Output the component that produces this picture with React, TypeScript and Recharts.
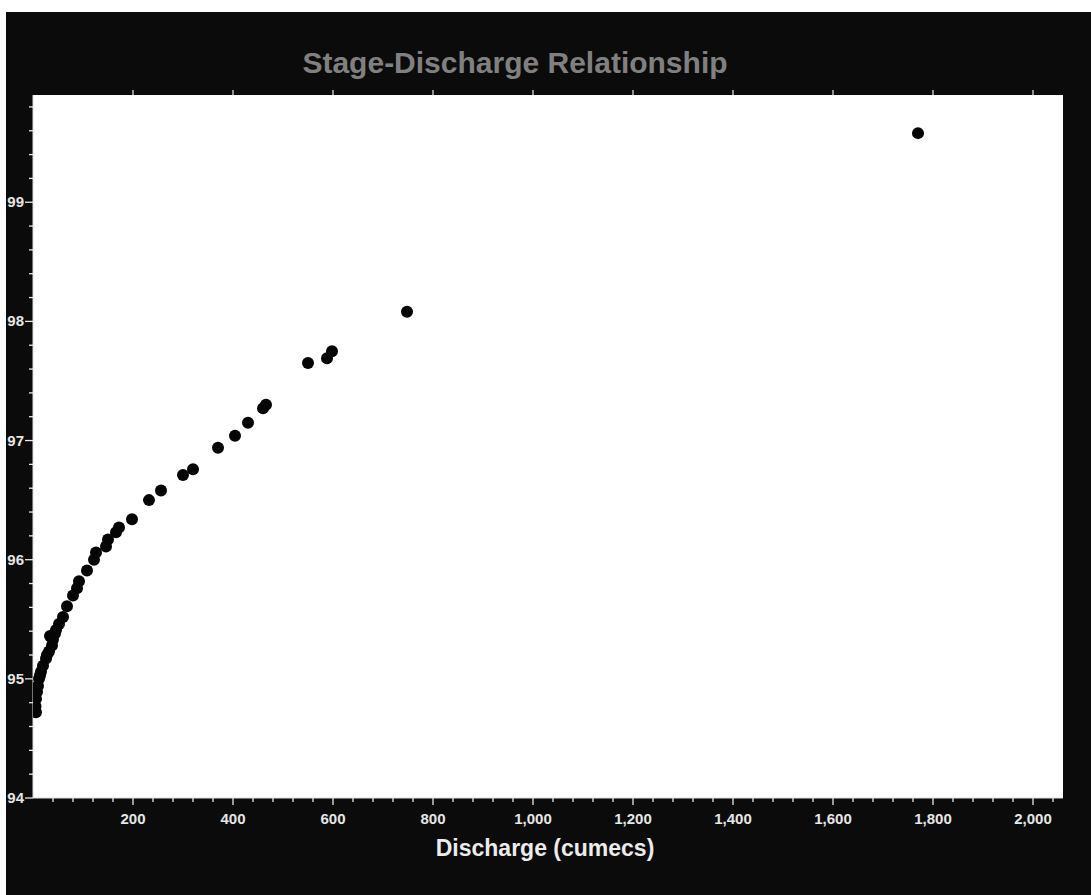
import React from "react";
import { ScatterChart, Scatter, XAxis, YAxis, CartesianGrid } from "recharts";

const discharge = [
  1770, 748, 598, 588, 550, 466, 460, 430, 404, 370, 320, 300, 256, 232, 198,
  172, 166, 150, 146, 126, 122, 108, 92, 88, 80, 68, 60, 52, 46, 44, 34, 40,
  38, 32, 28, 26, 20, 16, 14, 12, 10, 8, 6, 5, 6,
];
const stage = [
  99.58, 98.08, 97.75, 97.69, 97.65, 97.3, 97.27, 97.15, 97.04, 96.94, 96.76,
  96.71, 96.58, 96.5, 96.34, 96.27, 96.23, 96.17, 96.11, 96.06, 96.0, 95.91,
  95.82, 95.76, 95.7, 95.61, 95.52, 95.46, 95.41, 95.38, 95.36, 95.33, 95.28,
  95.23, 95.2, 95.17, 95.11, 95.06, 95.03, 95.0, 94.94, 94.89, 94.83, 94.77,
  94.72,
];

const xMajorTicks = [200, 400, 600, 800, 1000, 1200, 1400, 1600, 1800, 2000];
const xMinorStep = 40;
const xMax = 2060;
const yMajorTicks = [94, 95, 96, 97, 98, 99];
const yMinorStep = 0.2;
const yMin = 94;
const yMax = 99.9;

const points = discharge.map((d, i) => ({ q: d, h: stage[i] }));

const xTicks: number[] = [];
for (let v = xMinorStep; v <= xMax; v += xMinorStep) xTicks.push(v);
const yTicks: number[] = [];
for (let i = 0; yMin + i * yMinorStep <= yMax + 1e-9; i++)
  yTicks.push(Math.round((yMin + i * yMinorStep) * 10) / 10);

const PLOT_H = 703;
const FONT = "'Liberation Sans', Arial, Helvetica, sans-serif";

const fmt = (v: number) => v.toLocaleString("en-US");

const XTick = (props: any) => {
  const { x, y, payload } = props;
  const v = payload.value;
  const major = xMajorTicks.includes(v);
  return (
    <g>
      <line x1={x} x2={x} y1={y} y2={y + (major ? 7 : 4)} stroke="#e8e8e8" strokeWidth={1.3} />
      {major && (
        <line x1={x} x2={x} y1={y - PLOT_H} y2={y - PLOT_H - 5} stroke="#e8e8e8" strokeWidth={1.2} />
      )}
      {major && (
        <text x={x} y={y + 26} textAnchor="middle" fill="#e6e6e6" fontSize={15} fontWeight="bold" fontFamily={FONT}>
          {fmt(v)}
        </text>
      )}
    </g>
  );
};

const YTick = (props: any) => {
  const { x, y, payload } = props;
  const v = payload.value;
  const major = yMajorTicks.some((m) => Math.abs(m - v) < 1e-6);
  return (
    <g>
      <line x1={x - (major ? 8 : 4)} x2={x} y1={y} y2={y} stroke="#e8e8e8" strokeWidth={1.3} />
      {major && (
        <text x={x - 9} y={y + 5} textAnchor="end" fill="#e6e6e6" fontSize={15} fontWeight="bold" fontFamily={FONT}>
          {v}
        </text>
      )}
    </g>
  );
};

const Dot = (props: any) => <circle cx={props.cx} cy={props.cy} r={6} fill="#050505" />;

export default function App() {
  return (
    <div style={{ position: "absolute", left: 0, top: 0, width: 1091, height: 895, background: "#fff", overflow: "hidden" }}>
      <div style={{ position: "absolute", left: 6, top: 12, width: 1085, height: 883, background: "#0b0b0b", overflow: "hidden" }}>
        <ScatterChart width={1085} height={883} margin={{ top: 83, right: 28, left: 0, bottom: 0 }}>
          <CartesianGrid fill="#ffffff" horizontal={false} vertical={false} />
          <XAxis
            type="number"
            dataKey="q"
            domain={[0, xMax]}
            ticks={xTicks}
            interval={0}
            height={97}
            tickSize={0}
            tickMargin={0}
            tick={<XTick />}
            axisLine={{ stroke: "#dcdcdc" }}
            allowDataOverflow
          />
          <YAxis
            type="number"
            dataKey="h"
            domain={[yMin, yMax]}
            ticks={yTicks}
            interval={0}
            width={27}
            tickSize={0}
            tickMargin={0}
            tick={<YTick />}
            axisLine={{ stroke: "#dcdcdc" }}
            allowDataOverflow
          />
          <Scatter data={points} shape={<Dot />} isAnimationActive={false} />
        </ScatterChart>
      </div>
      <div style={{ position: "absolute", left: 0, top: 45, width: 1030, lineHeight: "36px", textAlign: "center", color: "#808080", fontFamily: FONT, fontWeight: "bold", fontSize: 30 }}>
        Stage-Discharge Relationship
      </div>
      <div style={{ position: "absolute", left: 0, top: 834, width: 1090, lineHeight: "28px", textAlign: "center", color: "#ececec", fontFamily: FONT, fontWeight: "bold", fontSize: 23 }}>
        Discharge (cumecs)
      </div>
    </div>
  );
}
